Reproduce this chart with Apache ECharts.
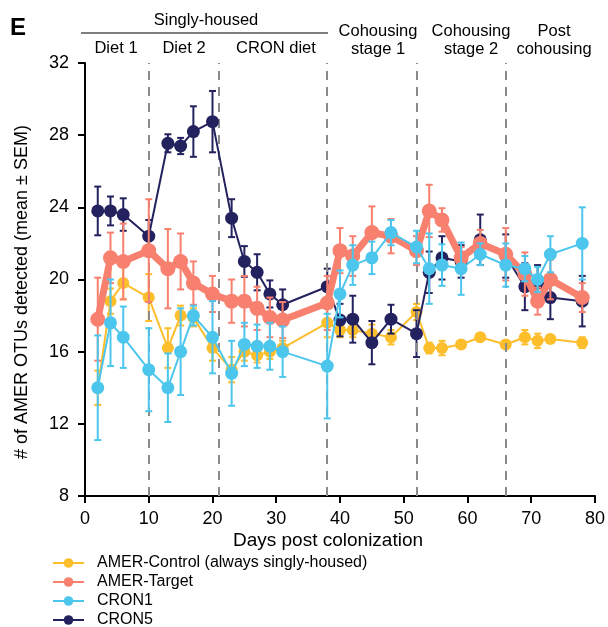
<!DOCTYPE html>
<html>
<head>
<meta charset="utf-8">
<script src="https://cdn.jsdelivr.net/npm/echarts@6/dist/echarts.min.js"></script>
<style>
  html, body { margin: 0; padding: 0; background: #fff; }
  #chart { width: 608px; height: 627px; }
</style>
</head>
<body>
<div id="chart"></div>
<script>
"use strict"

// days post colonization
const days = [2, 4, 6, 10, 13, 15, 17, 20, 23, 25, 27, 29, 31, 38, 40, 42, 45, 48, 52, 54, 56, 59, 62, 66, 69, 71, 73, 78];

// mean and SEM per group
const controlMean = [14.0, 18.8, 19.8, 19.0, 16.2, 18.0, 17.9, 16.2, 15.0, 16.0, 15.8, 16.0, 16.2, 17.6, 17.2, 17.2, 17.0, 16.8, 18.2, 16.2, 16.2, 16.4, 16.8, 16.4, 16.8, 16.6, 16.7, 16.5];
const controlSem  = [0.95, 0.7, 0.9, 1.3, 1.1, 0.55, 0.5, 0.7, 0.7, 0.5, 0.4, 0.4, 0.4, 0.8, 0.4, 0.4, 0.5, 0.4, 0.45, 0.3, 0.4, 0.2, 0.2, 0.2, 0.4, 0.4, 0.2, 0.3];

const targetMean = [17.8, 21.2, 21.0, 21.6, 20.6, 21.0, 19.8, 19.2, 18.8, 18.8, 18.4, 17.9, 17.75, 18.7, 21.6, 21.3, 22.6, 22.4, 21.6, 23.8, 23.3, 21.2, 22.0, 21.4, 20.3, 18.8, 20.0, 19.0];
const targetSem  = [2.3, 1.4, 2.1, 2.85, 2.2, 1.55, 1.2, 1.0, 1.2, 1.4, 1.2, 1.1, 1.0, 1.5, 1.25, 1.1, 1.45, 0.95, 0.8, 1.45, 0.65, 0.6, 0.75, 1.45, 1.2, 0.75, 1.1, 0.8];

const cron1Mean = [14.0, 17.6, 16.8, 15.0, 14.0, 16.0, 18.0, 16.8, 14.8, 16.4, 16.3, 16.3, 16.0, 15.2, 19.2, 20.8, 21.2, 22.6, 21.8, 20.6, 20.8, 20.6, 21.4, 20.8, 20.6, 20.0, 21.4, 22.0];
const cron1Sem  = [2.9, 2.4, 1.7, 2.3, 1.9, 2.4, 0.55, 2.0, 1.8, 1.2, 1.2, 1.3, 1.4, 2.9, 1.3, 1.1, 0.9, 0.7, 0.9, 1.95, 1.15, 1.45, 0.6, 1.2, 0.7, 0.7, 1.0, 2.0];

const cron5Mean = [23.8, 23.8, 23.6, 22.4, 27.55, 27.4, 28.2, 28.75, 23.4, 21.0, 20.4, 19.2, 18.6, 19.6, 17.75, 17.8, 16.5, 17.8, 17.0, 20.4, 21.2, 21.0, 22.2, 21.3, 19.6, 19.8, 19.0, 18.8];
const cron5Sem  = [1.35, 0.8, 0.9, 0.9, 0.5, 0.45, 1.4, 1.7, 1.05, 0.85, 1.0, 0.75, 0.85, 1.0, 0.9, 1.3, 1.2, 0.8, 1.3, 1.15, 1.2, 0.9, 1.4, 1.2, 1.3, 1.0, 1.2, 1.4];

// phase boundaries (dashed lines)
const phaseDays = [10, 21, 38, 52, 66];

const xTicks = [0, 10, 20, 30, 40, 50, 60, 70, 80];
const yTicks = [8, 12, 16, 20, 24, 28, 32];

const legendNames = ["AMER-Control (always singly-housed)", "AMER-Target", "CRON1", "CRON5"];

const FONT = "Liberation Sans";

const groups = [
    { name: "AMER-Control (always singly-housed)", mean: controlMean, sem: controlSem, color: "#FDBE2C", width: 2, size: 12 },
    { name: "CRON5", mean: cron5Mean, sem: cron5Sem, color: "#24225E", width: 2, size: 13 },
    { name: "AMER-Target", mean: targetMean, sem: targetSem, color: "#F8806F", width: 7, size: 15 },
    { name: "CRON1", mean: cron1Mean, sem: cron1Sem, color: "#4CC6EC", width: 2, size: 13 }
];

function errRenderer(color)
{
    return (params, api) =>
    {
        const x = api.value(0);
        const lo = api.coord([x, api.value(1)]), hi = api.coord([x, api.value(2)]);
        const hw = 3.5;
        const st = { stroke: color, lineWidth: 2 };
        return {
            type: "group",
            children: [
                { type: "line", shape: { x1: hi[0], y1: hi[1], x2: lo[0], y2: lo[1] }, style: st },
                { type: "line", shape: { x1: hi[0] - hw, y1: hi[1], x2: hi[0] + hw, y2: hi[1] }, style: st },
                { type: "line", shape: { x1: lo[0] - hw, y1: lo[1], x2: lo[0] + hw, y2: lo[1] }, style: st }
            ]
        };
    };
}

const series = [{
    type: "line",
    name: "phases",
    data: [],
    silent: true,
    z: 1,
    markLine: {
        silent: true,
        symbol: "none",
        label: { show: false },
        lineStyle: { color: "#8a8a8a", width: 2, type: [9, 7] },
        data: phaseDays.map(d => ({ xAxis: d }))
    }
}];

groups.forEach((g, i) =>
{
    series.push({
        type: "custom",
        name: g.name + " err",
        renderItem: errRenderer(g.color),
        data: days.map((d, k) => [d, g.mean[k] - g.sem[k], g.mean[k] + g.sem[k]]),
        encode: { x: 0, y: [1, 2] },
        z: 2 + i * 2
    });
    series.push({
        type: "line",
        name: g.name,
        data: days.map((d, k) => [d, g.mean[k]]),
        symbol: "circle",
        symbolSize: g.size,
        color: g.color,
        lineStyle: { color: g.color, width: g.width },
        itemStyle: { color: g.color },
        z: 3 + i * 2
    });
});

const axisText = { color: "#000", fontFamily: FONT, fontSize: 18 };

// one legend block per row so the four rows stack at fixed spacing
const legends = legendNames.map((n, i) => ({
    orient: "vertical",
    left: 52,
    top: 555 + i * 19,
    padding: 0,
    itemWidth: 31,
    itemHeight: 12,
    textStyle: { color: "#000", fontFamily: FONT, fontSize: 16, padding: [0, 0, 0, 8] },
    data: [n]
}));

const hdr = "16.5px " + FONT;

const option = {
    animation: false,
    grid: { left: 85, right: 11, top: 63, bottom: 131 },
    xAxis: {
        type: "value",
        min: xTicks[0], max: xTicks[xTicks.length - 1], interval: 10,
        axisLine: { onZero: false, lineStyle: { color: "#000", width: 2 } },
        axisTick: { length: 7, lineStyle: { color: "#000", width: 2 } },
        axisLabel: Object.assign({ margin: 14 }, axisText),
        splitLine: { show: false }
    },
    yAxis: {
        type: "value",
        min: yTicks[0], max: yTicks[yTicks.length - 1], interval: 4,
        axisLine: { show: true, onZero: false, lineStyle: { color: "#000", width: 2 } },
        axisTick: { show: true, length: 7, lineStyle: { color: "#000", width: 2 } },
        axisLabel: Object.assign({ margin: 16 }, axisText),
        splitLine: { show: false }
    },
    legend: legends,
    graphic: [
        { type: "text", left: 10, top: 16, style: { text: "E", font: "bold 24px " + FONT, fill: "#000" } },
        { type: "text", x: 206, y: 20, style: { text: "Singly-housed", font: hdr, fill: "#000", align: "center", verticalAlign: "middle" } },
        { type: "line", shape: { x1: 81, y1: 33, x2: 328, y2: 33 }, style: { stroke: "#000", lineWidth: 1.2 } },
        { type: "text", x: 116, y: 48, style: { text: "Diet 1", font: hdr, fill: "#000", align: "center", verticalAlign: "middle" } },
        { type: "text", x: 184, y: 48, style: { text: "Diet 2", font: hdr, fill: "#000", align: "center", verticalAlign: "middle" } },
        { type: "text", x: 276, y: 48, style: { text: "CRON diet", font: hdr, fill: "#000", align: "center", verticalAlign: "middle" } },
        { type: "text", x: 378, y: 40, style: { text: "Cohousing\nstage 1", font: hdr, lineHeight: 18, fill: "#000", align: "center", verticalAlign: "middle" } },
        { type: "text", x: 471, y: 40, style: { text: "Cohousing\nstage 2", font: hdr, lineHeight: 18, fill: "#000", align: "center", verticalAlign: "middle" } },
        { type: "text", x: 554, y: 40, style: { text: "Post\ncohousing", font: hdr, lineHeight: 18, fill: "#000", align: "center", verticalAlign: "middle" } },
        { type: "text", x: 328, y: 541, style: { text: "Days post colonization", font: "19px " + FONT, fill: "#000", align: "center", verticalAlign: "middle" } },
        { type: "text", x: 22, y: 292, rotation: Math.PI / 2, style: { text: "# of AMER OTUs detected (mean ± SEM)", font: "18px " + FONT, fill: "#000", align: "center", verticalAlign: "middle" } }
    ],
    series: series
};

const myChart = echarts.init(document.getElementById("chart"), null, { renderer: "canvas" });
myChart.setOption(option);
</script>
</body>
</html>
